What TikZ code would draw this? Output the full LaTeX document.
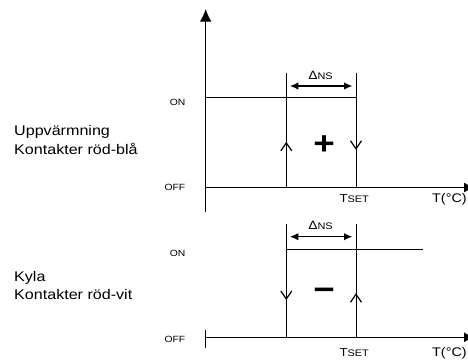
\documentclass[tikz,border=0pt]{standalone}
\usepackage{fontspec}
\setmainfont{Liberation Sans}[FakeStretch=1.15]
\usetikzlibrary{arrows.meta,decorations.markings}
\newcommand{\fsz}[1]{\fontsize{#1}{#1}\selectfont}
\begin{document}
\begin{tikzpicture}[x=1pt,y=-1pt,
  ln/.style={line width=1pt, black},
  lbl/.style={inner sep=0pt, anchor=base west, font=\fsz{14}},
  onoff/.style={inner sep=0pt, anchor=base east, font=\fsz{9}},
  tlbl/.style={inner sep=0pt, anchor=base west},
  dns/.style={inner sep=0pt, anchor=base},
  sym/.style={inner sep=0pt, font=\bfseries\fsz{32}},
  dimarrow/.style={line width=1.5pt, {Latex[length=8.5pt,width=7.5pt]}-{Latex[length=8.5pt,width=7.5pt]}, shorten <=3.5pt, shorten >=3.5pt},
  barbat/.style={postaction={decorate}, decoration={markings, mark=at position #1 with {\arrow{Straight Barb[length=8pt,width=11pt,line width=1.2pt]}}}},
]
\clip (0,0) rectangle (468,359);
% coordinates
\coordinate (yt) at (205.7,9);
\coordinate (yb) at (205.7,212);
\coordinate (x1l) at (205.7,187.5);
\coordinate (x1r) at (474,187.5);
\coordinate (x2l) at (205.7,337.3);
\coordinate (x2r) at (474,337.3);
\coordinate (tk2t) at (205.7,330);
\coordinate (tk2b) at (205.7,348.3);
\coordinate (a1t) at (286.3,73.3);
\coordinate (a1b) at (286.3,187.5);
\coordinate (b1t) at (356,73.3);
\coordinate (b1b) at (356,187.5);
\coordinate (on1l) at (205.7,97.7);
\coordinate (on1r) at (356,97.7);
\coordinate (d1l) at (286.3,86);
\coordinate (d1r) at (356,86);
\coordinate (a2t) at (286.3,224.3);
\coordinate (a2b) at (286.3,337.3);
\coordinate (b2t) at (356,224.3);
\coordinate (b2b) at (356,337.3);
\coordinate (on2l) at (286.3,249);
\coordinate (on2r) at (423.3,249);
\coordinate (d2l) at (286.3,236.7);
\coordinate (d2r) at (356,236.7);
% axes
\draw[ln, -{Latex[length=12.5pt,width=11.5pt]}] (yb) -- (yt);
\draw[ln, -{Latex[length=10pt,width=10pt]}] (x1l) -- (x1r);
\draw[ln, -{Latex[length=10pt,width=10pt]}] (x2l) -- (x2r);
\draw[ln] (tk2t) -- (tk2b);
% upper hysteresis
\draw[ln] (on1l) -- (on1r);
\draw[ln, barbat=0.40] (a1b) -- (a1t);
\draw[ln, barbat=0.67] (b1t) -- (b1b);
\draw[dimarrow] (d1l) -- (d1r);
% lower hysteresis
\draw[ln] (on2l) -- (on2r);
\draw[ln, barbat=0.67] (a2t) -- (a2b);
\draw[ln, barbat=0.39] (b2b) -- (b2t);
\draw[dimarrow] (d2l) -- (d2r);
% labels
\node[dns] (dn1) at (320.5,79) {\fsz{12}Δ\fsz{9.5}NS};
\node[dns] (dn2) at (320.5,229.7) {\fsz{12}Δ\fsz{9.5}NS};
\node[sym] (plus) at (324.2,144.7) {+};
\node[sym] (minus) at (324.2,294.2) {−};
\node[tlbl] (ts1) at (339.3,202.3) {\fsz{11.5}T\fsz{9.5}SET};
\node[tlbl] (tc1) at (432,202.3) {\fsz{12.5}T(°C)};
\node[tlbl] (ts2) at (339.3,356.7) {\fsz{11.5}T\fsz{9.5}SET};
\node[tlbl] (tc2) at (432,356.7) {\fsz{12.5}T(°C)};
\node[onoff] (on1) at (185.5,105) {ON};
\node[onoff] (off1) at (185.5,190) {OFF};
\node[onoff] (on2) at (185.5,256.7) {ON};
\node[onoff] (off2) at (185.5,342.7) {OFF};
\node[lbl] (h1) at (14,135.7) {Uppvärmning};
\node[lbl] (h2) at (14,154) {Kontakter röd-blå};
\node[lbl] (k1) at (14,281) {Kyla};
\node[lbl] (k2) at (14,299.3) {Kontakter röd-vit};
\end{tikzpicture}
\end{document}
